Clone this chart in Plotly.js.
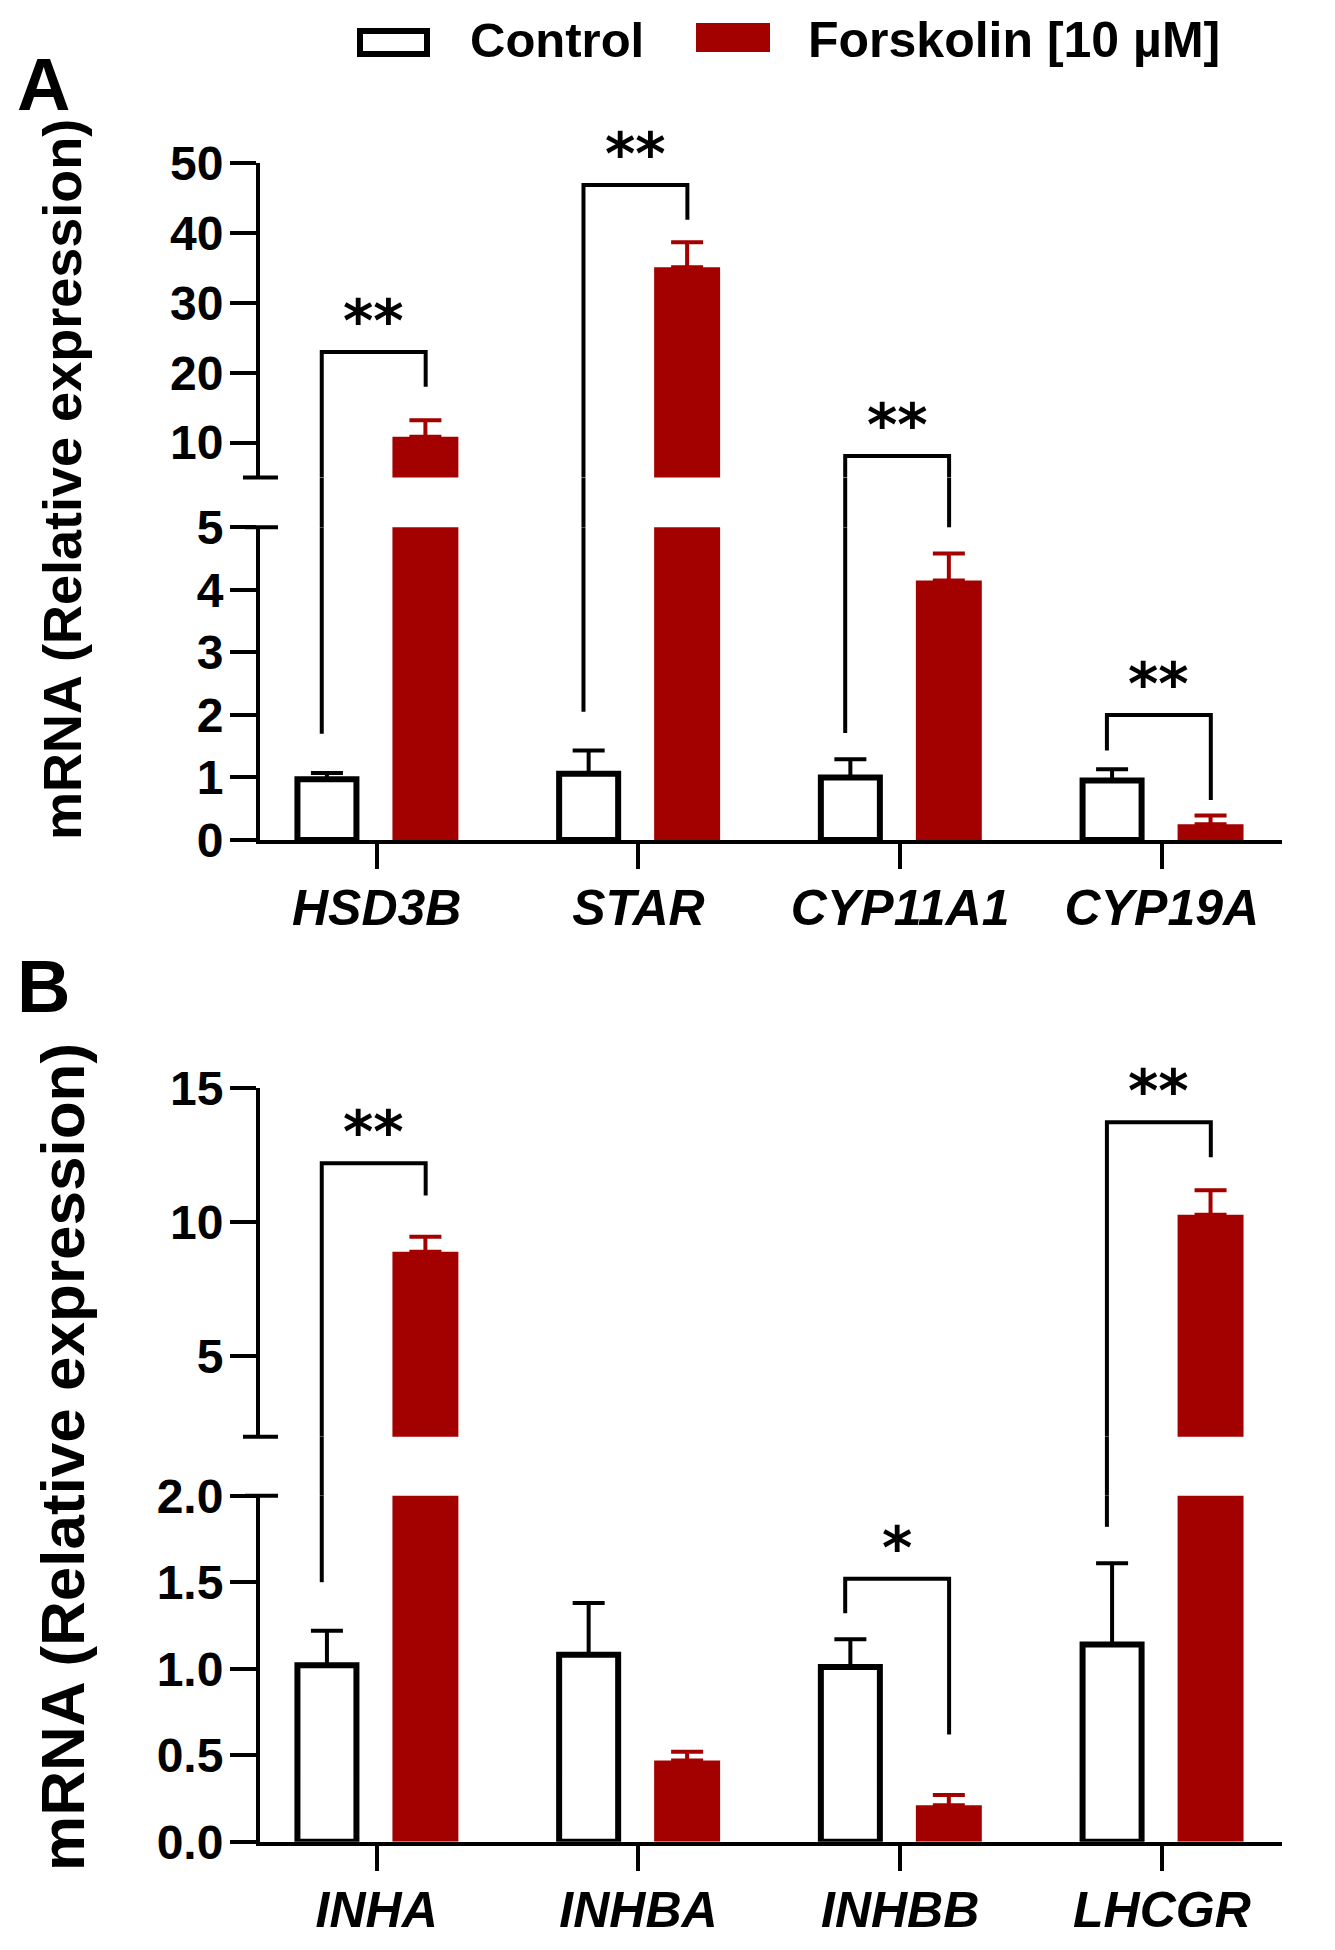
<!DOCTYPE html>
<html><head><meta charset="utf-8">
<script src="https://cdn.plot.ly/plotly-3.0.1.min.js"></script>
<style>body{margin:0;background:#fff}#chart{width:1335px;height:1950px}</style>
</head><body><div id="chart"></div>
<script>
// ---------------- data ----------------
const genesA = ['HSD3B', 'STAR', 'CYP11A1', 'CYP19A'];
const controlA = [0.97, 1.06, 1.00, 0.95];
const controlErrA = [0.10, 0.37, 0.29, 0.18];
const forskolinA = [10.86, 35.1, 4.15, 0.25];
const forskolinErrA = [2.34, 3.6, 0.43, 0.14];

const genesB = ['INHA', 'INHBA', 'INHBB', 'LHCGR'];
const controlB = [1.02, 1.08, 1.01, 1.14];
const controlErrB = [0.20, 0.30, 0.16, 0.47];
const forskolinB = [8.9, 0.47, 0.21, 10.28];
const forskolinErrB = [0.56, 0.05, 0.06, 0.92];

// tick labels (broken axes: lower / upper segment)
const tickLoA = [0, 1, 2, 3, 4, 5];
const tickHiA = [10, 20, 30, 40, 50];
const tickLoB = [0, 0.5, 1, 1.5, 2];
const tickLoTextB = ['0.0', '0.5', '1.0', '1.5', '2.0'];
const tickHiB = [5, 10, 15];

// significance brackets (value + which segment: 'lo' / 'hi')
const sigA_idx = [0, 1, 2, 3];
const sigA_text = ['**', '**', '**', '**'];
const sigA_leftY = [1.70, 2.05, 1.71, 1.43];
const sigA_leftSeg = ['lo', 'lo', 'lo', 'lo'];
const sigA_rightY = [18.0, 41.9, 5.0, 0.64];
const sigA_rightSeg = ['hi', 'hi', 'lo', 'lo'];
const sigA_topY = [23.0, 46.9, 8.1, 2.0];
const sigA_topSeg = ['hi', 'hi', 'hi', 'lo'];

const sigB_idx = [0, 2, 3];
const sigB_text = ['**', '*', '**'];
const sigB_leftY = [1.50, 1.32, 1.82];
const sigB_leftSeg = ['lo', 'lo', 'lo'];
const sigB_rightY = [11.0, 0.62, 12.43];
const sigB_rightSeg = ['hi', 'lo', 'hi'];
const sigB_topY = [12.2, 1.52, 13.73];
const sigB_topSeg = ['hi', 'lo', 'hi'];

// ---------------- layout helpers ----------------
const W = 1335, H = 1950;
const px = v => v / W;
const py = v => 1 - v / H;
const RED = '#a30000';
const FONT = 'Liberation Sans, Arial, sans-serif';

const panels = [
  { xa: 'x', lo: 'y', hi: 'y2', genes: genesA,
    loDom: [py(840), py(527.3)], hiDom: [py(477.6), py(163.3)],
    loRange: [0, 5], hiRange: [5, 50],
    loTicks: tickLoA, loText: tickLoA.map(String), hiTicks: tickHiA, hiText: tickHiA.map(String),
    ctl: controlA, ctlErr: controlErrA, fsk: forskolinA, fskErr: forskolinErrA,
    sig: { idx: sigA_idx, text: sigA_text, lY: sigA_leftY, lS: sigA_leftSeg, rY: sigA_rightY, rS: sigA_rightSeg,
           tY: sigA_topY, tS: sigA_topSeg } },
  { xa: 'x2', lo: 'y3', hi: 'y4', genes: genesB,
    loDom: [py(1841.7), py(1495.7)], hiDom: [py(1436.7), py(1088.3)],
    loRange: [0, 2], hiRange: [2, 15],
    loTicks: tickLoB, loText: tickLoTextB, hiTicks: tickHiB, hiText: tickHiB.map(String),
    ctl: controlB, ctlErr: controlErrB, fsk: forskolinB, fskErr: forskolinErrB,
    sig: { idx: sigB_idx, text: sigB_text, lY: sigB_leftY, lS: sigB_leftSeg, rY: sigB_rightY, rS: sigB_rightSeg,
           tY: sigB_topY, tS: sigB_topSeg } }
];

const CTL_W = 0.2255, CTL_OFF = -0.303;
const FSK_W = 0.252, FSK_OFF = 0.060;
const BR_L = -0.21, BR_R = 0.187;

const traces = [];
const shapes = [];
const annotations = [];
const layout = {
  width: W, height: H, margin: { l: 0, r: 0, t: 0, b: 0 },
  paper_bgcolor: 'white', plot_bgcolor: 'rgba(0,0,0,0)',
  showlegend: false, barmode: 'overlay',
  font: { family: FONT, color: 'black' }
};

const axName = id => id.replace(/^x/, 'xaxis').replace(/^y/, 'yaxis');

panels.forEach(P => {
  layout[axName(P.xa)] = {
    domain: [px(260), px(1282)], range: [-0.446, 3.459], type: 'category',
    categoryorder: 'array', categoryarray: P.genes, anchor: P.lo,
    showline: true, linewidth: 4, linecolor: 'black',
    ticks: 'outside', ticklen: 25, tickwidth: 4, tickcolor: 'black', tickangle: 0,
    tickfont: { family: FONT, size: 50, weight: 'bold', style: 'italic', color: 'black' },
    ticklabelstandoff: -4,
    showgrid: false, zeroline: false, fixedrange: true, automargin: false
  };
  const yBase = {
    anchor: P.xa, showline: true, linewidth: 4, linecolor: 'black',
    ticks: 'outside', ticklen: 26, tickwidth: 4, tickcolor: 'black',
    tickfont: { family: FONT, size: 48, weight: 'bold', color: 'black' },
    tickmode: 'array', ticklabelstandoff: -3,
    showgrid: false, zeroline: false, fixedrange: true, automargin: false
  };
  layout[axName(P.lo)] = Object.assign({}, yBase, { domain: P.loDom, range: P.loRange, tickvals: P.loTicks, ticktext: P.loText });
  layout[axName(P.hi)] = Object.assign({}, yBase, { domain: P.hiDom, range: P.hiRange, tickvals: P.hiTicks, ticktext: P.hiText });

  [P.lo, P.hi].forEach(ya => {
    traces.push({
      type: 'bar', x: P.genes, y: P.ctl, xaxis: P.xa, yaxis: ya,
      width: CTL_W, offset: CTL_OFF,
      marker: { color: 'white', line: { color: 'black', width: 6 } },
      error_y: { type: 'data', array: P.ctlErr, arrayminus: P.ctl.map(() => 0), symmetric: false,
                 color: 'black', thickness: 4, width: 16 },
      hoverinfo: 'skip', name: 'Control'
    });
    traces.push({
      type: 'bar', x: P.genes, y: P.fsk, xaxis: P.xa, yaxis: ya,
      width: FSK_W, offset: FSK_OFF,
      marker: { color: RED, line: { width: 0 } },
      error_y: { type: 'data', array: P.fskErr, arrayminus: P.fsk.map(() => 0), symmetric: false,
                 color: RED, thickness: 4, width: 16 },
      hoverinfo: 'skip', name: 'Forskolin [10 µM]'
    });
  });

  // axis break caps
  const capLine = { color: 'black', width: 4 };
  shapes.push({ type: 'line', xref: 'paper', yref: 'paper', x0: px(243), x1: px(278), y0: P.hiDom[0], y1: P.hiDom[0], line: capLine });
  shapes.push({ type: 'line', xref: 'paper', yref: 'paper', x0: px(245), x1: px(278), y0: P.loDom[1], y1: P.loDom[1], line: capLine });

  // significance brackets
  const S = P.sig;
  const line = { color: 'black', width: 4 };
  S.idx.forEach((ci, k) => {
    const xl = ci + BR_L, xr = ci + BR_R;
    const lY = S.lY[k], lS = S.lS[k], rY = S.rY[k], rS = S.rS[k], tY = S.tY[k], tS = S.tS[k];
    if (tS === 'lo') {
      shapes.push({ type: 'path', xref: P.xa, yref: P.lo, path: `M ${xl},${lY} V ${tY} H ${xr} V ${rY}`, line });
    } else {
      const lStart = lS === 'hi' ? lY : P.hiRange[0];
      const rEnd = rS === 'hi' ? rY : P.hiRange[0];
      shapes.push({ type: 'path', xref: P.xa, yref: P.hi, path: `M ${xl},${lStart} V ${tY} H ${xr} V ${rEnd}`, line });
      [[xl, lY, lS], [xr, rY, rS]].forEach(([x, y, s]) => {
        if (s === 'lo') {
          if (y < P.loRange[1]) {
            shapes.push({ type: 'line', xref: P.xa, yref: P.lo, x0: x, x1: x, y0: y, y1: P.loRange[1], line });
          }
          shapes.push({ type: 'line', xref: P.xa, yref: 'paper', x0: x, x1: x, y0: P.loDom[1], y1: P.hiDom[0], line });
        }
      });
    }
    // stars sit a fixed distance above the bracket top
    annotations.push({
      xref: P.xa, yref: tS === 'hi' ? P.hi : P.lo, x: (xl + xr) / 2, y: tY,
      xanchor: 'center', yanchor: 'middle',
      text: S.text[k], showarrow: false, yshift: 31,
      font: { family: 'DejaVu Sans, sans-serif', size: 58, weight: 'bold', color: 'black' }
    });
  });
});

// legend (drawn)
shapes.push({ type: 'rect', xref: 'paper', yref: 'paper', x0: px(360), x1: px(427), y0: py(54), y1: py(31),
              line: { color: 'black', width: 6 }, fillcolor: 'white' });
shapes.push({ type: 'rect', xref: 'paper', yref: 'paper', x0: px(696), x1: px(770), y0: py(52), y1: py(23),
              line: { width: 0 }, fillcolor: RED });
annotations.push({ xref: 'paper', yref: 'paper', x: px(468), y: py(40), xanchor: 'left', yanchor: 'middle',
                   text: 'Control', showarrow: false, font: { family: FONT, size: 49, weight: 'bold', color: 'black' } });
annotations.push({ xref: 'paper', yref: 'paper', x: px(806), y: py(40), xanchor: 'left', yanchor: 'middle',
                   text: 'Forskolin [10 µM]', showarrow: false, font: { family: FONT, size: 50, weight: 'bold', color: 'black' } });

// panel letters
annotations.push({ xref: 'paper', yref: 'paper', x: px(43), y: py(84), xanchor: 'center', yanchor: 'middle',
                   text: 'A', showarrow: false, font: { family: FONT, size: 74, weight: 'bold', color: 'black' } });
annotations.push({ xref: 'paper', yref: 'paper', x: px(43), y: py(986), xanchor: 'center', yanchor: 'middle',
                   text: 'B', showarrow: false, font: { family: FONT, size: 74, weight: 'bold', color: 'black' } });

// y-axis titles
annotations.push({ xref: 'paper', yref: 'paper', x: px(62), y: py(480), xanchor: 'center', yanchor: 'middle',
                   textangle: -90, showarrow: false,
                   text: 'mRNA (Relative expression)', font: { family: FONT, size: 54, weight: 'bold', color: 'black' } });
annotations.push({ xref: 'paper', yref: 'paper', x: px(62), y: py(1457), xanchor: 'center', yanchor: 'middle',
                   textangle: -90, showarrow: false,
                   text: 'mRNA (Relative expression)', font: { family: FONT, size: 62, weight: 'bold', color: 'black' } });

layout.shapes = shapes;
layout.annotations = annotations;

Plotly.newPlot('chart', traces, layout, { staticPlot: true });
</script>
</body></html>
